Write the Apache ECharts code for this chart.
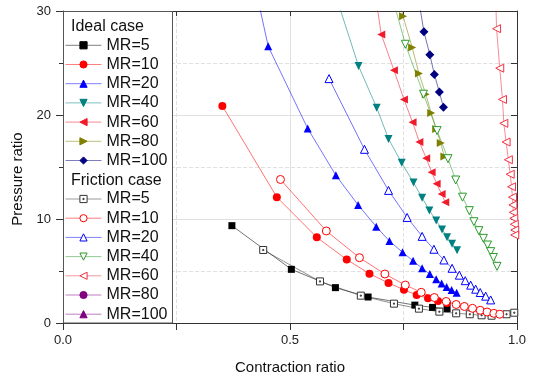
<!DOCTYPE html>
<html>
<head>
<meta charset="utf-8">
<script src="https://cdn.jsdelivr.net/npm/echarts@6/dist/echarts.min.js"></script>
<style>
  html, body { margin: 0; padding: 0; background: #fff; }
  #chart { width: 535px; height: 376px; }
</style>
</head>
<body>
<div id="chart"></div>
<script>
// 数据：Contraction ratio (x) / Pressure ratio (y)
// 理想情况 Ideal case
var ideal5X = [0.372, 0.503, 0.600, 0.672, 0.775, 0.814, 0.846];
var ideal5Y = [9.36, 5.16, 3.40, 2.50, 1.72, 1.50, 1.38];
var ideal10X = [0.351, 0.471, 0.559, 0.625, 0.675, 0.717, 0.751, 0.779, 0.804, 0.826, 0.846];
var ideal10Y = [20.87, 12.1, 8.24, 6.10, 4.74, 3.85, 3.20, 2.69, 2.37, 2.12, 1.93];
var ideal20X = [0.42, 0.452, 0.539, 0.601, 0.650, 0.690, 0.719, 0.748, 0.771, 0.791, 0.808, 0.822, 0.834, 0.845, 0.856, 0.867];
var ideal20Y = [33, 26.6, 18.7, 14.2, 11.35, 9.26, 7.88, 6.80, 5.98, 5.26, 4.70, 4.20, 3.80, 3.46, 3.17, 2.90];
var ideal40X = [0.600, 0.651, 0.691, 0.717, 0.746, 0.772, 0.791, 0.807, 0.822, 0.835, 0.846, 0.857, 0.868];
var ideal40Y = [31.6, 24.7, 20.7, 17.7, 15.4, 13.5, 12.05, 10.82, 9.85, 9.0, 8.24, 7.62, 7.0];
var ideal60X = [0.690, 0.701, 0.729, 0.751, 0.770, 0.785, 0.800, 0.812, 0.823, 0.834, 0.842];
var ideal60Y = [31, 27.75, 24.3, 21.5, 19.3, 17.4, 15.85, 14.5, 13.4, 12.4, 11.6];
var ideal80X = [0.735, 0.749, 0.769, 0.784, 0.799, 0.811, 0.822, 0.832, 0.840];
var ideal80Y = [32, 29.5, 26.5, 24.0, 22.0, 20.2, 18.65, 17.3, 16.0];
var ideal100X = [0.780, 0.795, 0.808, 0.818, 0.829, 0.838];
var ideal100Y = [32, 28.0, 25.8, 23.9, 22.2, 20.75];

// 摩擦情况 Friction case
var fric5X = [0.441, 0.566, 0.656, 0.729, 0.784, 0.829, 0.866, 0.896, 0.922, 0.944, 0.977, 0.994];
var fric5Y = [7.02, 4.00, 2.63, 1.86, 1.38, 1.09, 0.93, 0.84, 0.74, 0.70, 0.84, 0.99];
var fric10X = [0.479, 0.580, 0.653, 0.709, 0.754, 0.789, 0.818, 0.844, 0.866, 0.884, 0.902, 0.919, 0.934, 0.949, 0.962];
var fric10Y = [13.8, 8.85, 6.28, 4.71, 3.65, 2.95, 2.45, 2.07, 1.78, 1.59, 1.41, 1.22, 1.06, 0.93, 0.84];
var fric20X = [0.586, 0.664, 0.717, 0.758, 0.791, 0.817, 0.839, 0.857, 0.873, 0.886, 0.898, 0.909, 0.919, 0.931, 0.942];
var fric20Y = [23.5, 16.7, 12.75, 10.15, 8.33, 7.09, 6.06, 5.26, 4.60, 4.07, 3.64, 3.25, 2.93, 2.58, 2.22];
var fric40X = [0.715, 0.754, 0.794, 0.824, 0.848, 0.865, 0.880, 0.895, 0.905, 0.916, 0.926, 0.935, 0.942, 0.948, 0.956];
var fric40Y = [33, 26.8, 22.0, 18.5, 15.8, 13.75, 12.1, 10.8, 9.74, 8.88, 8.14, 7.5, 6.86, 6.3, 5.45];
var fric60X = [0.952, 0.955, 0.962, 0.968, 0.971, 0.976, 0.981, 0.985, 0.988, 0.990, 0.991, 0.992, 0.993, 0.994, 0.995, 0.995];
var fric60Y = [33, 28.3, 24.5, 21.5, 19.2, 17.4, 15.7, 14.3, 13.1, 12.1, 11.35, 10.64, 10.07, 9.49, 8.94, 8.46];
var fric80X = [];
var fric80Y = [];
var fric100X = [];
var fric100Y = [];

// 坐标轴
var xTicks = [0, 0.5, 1.0];
var yTicks = [0, 10, 20, 30];

var FONT = "'Liberation Sans', Arial, sans-serif";

function pairs(xs, ys) {
  return xs.map(function (x, i) {
    return [x, ys[i]];
  });
}

// 生成折线系列，hollow=true 为空心符号
function makeSeries(name, xs, ys, symbol, color, size, rotate, hollow) {
  return {
    name: name,
    type: "line",
    data: pairs(xs, ys),
    symbol: symbol,
    symbolSize: size,
    symbolRotate: rotate || 0,
    showAllSymbol: true,
    clip: true,
    z: 3,
    lineStyle: { color: color, width: 1, opacity: 0.55 },
    itemStyle: hollow
      ? { color: "#fff", borderColor: color, borderWidth: 1 }
      : { color: color, borderColor: color, borderWidth: 0 },
    emphasis: { disabled: true },
    animation: false,
  };
}

var dotSquare = "path://M0,0H10V10H0Z M4.2,4.2H5.8V5.8H4.2Z";

var series = [
  { name: "Ideal case", type: "line", data: [], symbol: "none" },
  makeSeries("Ideal MR=5", ideal5X, ideal5Y, "rect", "#000000", 7, 0, false),
  makeSeries("Ideal MR=10", ideal10X, ideal10Y, "circle", "#ff0000", 8, 0, false),
  makeSeries("Ideal MR=20", ideal20X, ideal20Y, "triangle", "#0000ff", 8, 0, false),
  makeSeries("Ideal MR=40", ideal40X, ideal40Y, "triangle", "#008080", 8, 180, false),
  makeSeries("Ideal MR=60", ideal60X, ideal60Y, "triangle", "#f01c2c", 8, 90, false),
  makeSeries("Ideal MR=80", ideal80X, ideal80Y, "triangle", "#808000", 8, -90, false),
  makeSeries("Ideal MR=100", ideal100X, ideal100Y, "diamond", "#000080", 9, 0, false),
  { name: "Friction case", type: "line", data: [], symbol: "none" },
  makeSeries("Friction MR=5", fric5X, fric5Y, dotSquare, "#333333", 7, 0, true),
  makeSeries("Friction MR=10", fric10X, fric10Y, "circle", "#ff0000", 8, 0, true),
  makeSeries("Friction MR=20", fric20X, fric20Y, "triangle", "#0000ff", 8, 0, true),
  makeSeries("Friction MR=40", fric40X, fric40Y, "triangle", "#2a9a2a", 8, 180, true),
  makeSeries("Friction MR=60", fric60X, fric60Y, "triangle", "#f03040", 8, 90, true),
  makeSeries("Friction MR=80", fric80X, fric80Y, "circle", "#800080", 8, 0, false),
  makeSeries("Friction MR=100", fric100X, fric100Y, "triangle", "#800080", 8, 0, false),
];

var idealNames = series.slice(1, 8).map(function (s) { return s.name; });
var fricNames = series.slice(9, 16).map(function (s) { return s.name; });

function legendFormatter(name) {
  return name.replace(/^(Ideal|Friction) /, "");
}

var legendText = { fontSize: 16, color: "#111", fontFamily: FONT, lineHeight: 19 };

function headerLegend(name, top) {
  return {
    data: [{ name: name, icon: "none" }],
    left: 66,
    top: top,
    padding: 0,
    itemWidth: 0,
    itemTextGap: 0,
    selectedMode: false,
    textStyle: legendText,
    z: 5,
  };
}

function groupLegend(names, top) {
  return {
    data: names,
    orient: "vertical",
    left: 65,
    top: top,
    padding: 0,
    itemWidth: 36,
    itemHeight: 9,
    itemGap: 0.2,
    itemTextGap: 6,
    selectedMode: false,
    formatter: legendFormatter,
    textStyle: legendText,
    lineStyle: { width: 1, opacity: 0.5 },
    itemStyle: { borderWidth: 1 },
    z: 5,
  };
}

var axisColor = "#333";
var gridColor = "#e0e0e0";

var option = {
  animation: false,
  textStyle: { fontFamily: FONT },
  grid: { left: 63, right: 18, top: 11, bottom: 53, containLabel: false, outerBoundsMode: "none" },
  legend: [
    headerLegend("Ideal case", 17.5),
    groupLegend(idealNames, 35.8),
    headerLegend("Friction case", 171),
    groupLegend(fricNames, 189.5),
  ],
  graphic: [
    {
      type: "rect",
      z: 1,
      shape: { x: 63.5, y: 11.5, width: 109, height: 311.5 },
      style: { fill: "#fff", stroke: "#555", lineWidth: 1 },
    },
  ],
  xAxis: [
    {
      type: "value",
      position: "bottom",
      min: xTicks[0],
      max: xTicks[xTicks.length - 1],
      interval: 0.5,
      name: "Contraction ratio",
      nameLocation: "middle",
      nameGap: 37,
      nameTextStyle: { fontSize: 15, color: "#111" },
      axisLine: { lineStyle: { color: axisColor, width: 1 } },
      axisTick: { show: true, inside: false, length: 7, lineStyle: { color: axisColor } },
      minorTick: { show: true, splitNumber: 2, length: 7, lineStyle: { color: axisColor } },
      axisLabel: {
        fontSize: 13,
        color: "#222",
        margin: 11,
        formatter: function (v) { return v.toFixed(1); },
      },
      splitLine: { show: true, lineStyle: { color: gridColor, width: 1 } },
      minorSplitLine: { show: true, lineStyle: { color: gridColor, type: "dashed" } },
    },
    {
      type: "value",
      position: "top",
      min: 0,
      max: 1,
      interval: 0.5,
      axisLine: { show: true, onZero: false, lineStyle: { color: axisColor, width: 1 } },
      axisTick: { show: true, inside: true, length: 5, lineStyle: { color: axisColor } },
      minorTick: { show: true, splitNumber: 2, length: 5, lineStyle: { color: axisColor } },
      axisLabel: { show: false },
      splitLine: { show: false },
    },
  ],
  yAxis: [
    {
      type: "value",
      position: "left",
      min: yTicks[0],
      max: yTicks[yTicks.length - 1],
      interval: 10,
      name: "Pressure ratio",
      nameLocation: "middle",
      nameGap: 37,
      nameTextStyle: { fontSize: 15, color: "#111", padding: [0, 24, 0, 0] },
      axisLine: { show: true, lineStyle: { color: axisColor, width: 1 } },
      axisTick: { show: true, inside: false, length: 7, lineStyle: { color: axisColor } },
      minorTick: { show: true, splitNumber: 2, length: 4, lineStyle: { color: axisColor } },
      axisLabel: { fontSize: 13, color: "#222", margin: 12 },
      splitLine: { show: true, lineStyle: { color: gridColor, width: 1 } },
      minorSplitLine: { show: true, lineStyle: { color: gridColor, type: "dashed" } },
    },
    {
      type: "value",
      position: "right",
      min: 0,
      max: 30,
      interval: 5,
      axisLine: { show: true, onZero: false, lineStyle: { color: axisColor, width: 1 } },
      axisTick: { show: true, inside: true, length: 6, lineStyle: { color: axisColor } },
      axisLabel: { show: false },
      splitLine: { show: false },
    },
  ],
  series: series,
};

var myChart = echarts.init(document.getElementById("chart"), null, { renderer: "canvas" });
myChart.setOption(option);
</script>
</body>
</html>
